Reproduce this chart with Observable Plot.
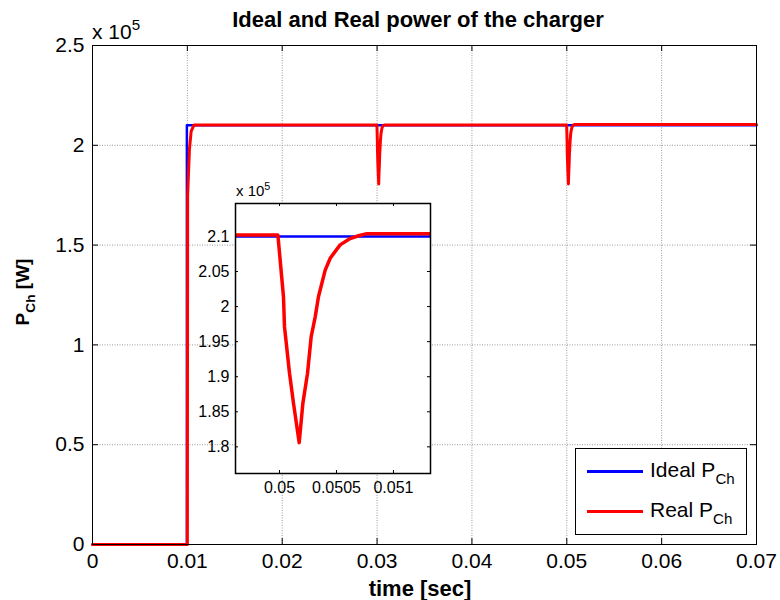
<!DOCTYPE html>
<html><head><meta charset="utf-8">
<script src="https://cdn.jsdelivr.net/npm/d3@7"></script>
<script src="https://cdn.jsdelivr.net/npm/@observablehq/plot@0.6"></script>
<style>
body{margin:0;background:#fff;font-family:"Liberation Sans",Arial,sans-serif;}
#wrap{position:relative;width:780px;height:600px;overflow:hidden;background:#fff;}
.abs{position:absolute;white-space:nowrap;color:#000;line-height:1;}
.abs sub{font-size:0.72em;vertical-align:-0.45em;}
.abs sup{font-size:0.72em;vertical-align:0.6em;}
svg{position:absolute;}
</style></head><body><div id="wrap"></div>
<script>
// ---- data (power in units of x10^5 W) ----
const idealT = [0, 0.00995, 0.00995, 0.07];
const idealP = [0, 0, 2.1, 2.1];

const realT = [0, 0.0100, 0.01003, 0.01022, 0.0104, 0.0107,
  0.029986, 0.030035, 0.030044, 0.030088, 0.030123, 0.030173, 0.030205, 0.030246, 0.030278,
  0.030313, 0.030342, 0.030401, 0.030445, 0.030532, 0.030620, 0.030693, 0.030767,
  0.049986, 0.050035, 0.050044, 0.050088, 0.050123, 0.050173, 0.050205, 0.050246, 0.050278,
  0.050313, 0.050342, 0.050401, 0.050445, 0.050532, 0.050620, 0.050693, 0.050767,
  0.07];
const realP = [0, 0, 1.75, 1.98, 2.07, 2.102,
  2.102, 2.014, 1.971, 1.905, 1.862, 1.806, 1.862, 1.905, 1.957,
  1.985, 2.014, 2.052, 2.069, 2.088, 2.097, 2.100, 2.102,
  2.102, 2.014, 1.971, 1.905, 1.862, 1.806, 1.862, 1.905, 1.957,
  1.985, 2.014, 2.052, 2.069, 2.088, 2.097, 2.101, 2.104,
  2.104];

const xTicks = [0, 0.01, 0.02, 0.03, 0.04, 0.05, 0.06, 0.07];
const xTickLabels = ["0", "0.01", "0.02", "0.03", "0.04", "0.05", "0.06", "0.07"];
const yTicks = [0, 0.5, 1, 1.5, 2, 2.5];
const yTickLabels = ["0", "0.5", "1", "1.5", "2", "2.5"];

const insetXDomain = [0.049614, 0.051325];
const insetYDomain = [1.762, 2.147];
const insetXTicks = [0.05, 0.0505, 0.051];
const insetXTickLabels = ["0.05", "0.0505", "0.051"];
const insetYTicks = [1.8, 1.85, 1.9, 1.95, 2, 2.05, 2.1];
const insetYTickLabels = ["1.8", "1.85", "1.9", "1.95", "2", "2.05", "2.1"];

const seriesNames = ["Ideal", "Real"];
const seriesColors = ["#0000ff", "#ff0000"];

// ---- build ----
const ideal = idealT.map((t, i) => ({t, p: idealP[i]}));
const real = realT.map((t, i) => ({t, p: realP[i]}));
const FONT = "'Liberation Sans', Arial, sans-serif";
const wrap = document.getElementById("wrap");

const W = 780, H = 600, mL = 92, mR = 24, mT = 45, mB = 56;
const innerW = W - mL - mR, innerH = H - mT - mB;
const TK = 6;
const gridStyle = {stroke: "#9a9a9a", strokeOpacity: 1, strokeWidth: 1, strokeDasharray: "1,1.5"};

const main = Plot.plot({
  width: W, height: H, marginLeft: mL, marginRight: mR, marginTop: mT, marginBottom: mB,
  style: {fontFamily: FONT, fontSize: "21px", color: "#000", background: "none", overflow: "visible"},
  x: {domain: [0, 0.07], label: null},
  y: {domain: [0, 2.5], label: null},
  marks: [
    Plot.ruleX(xTicks, {x: d => d, ...gridStyle}),
    Plot.ruleY(yTicks, {y: d => d, ...gridStyle}),
    Plot.tickX(xTicks, {x: d => d, insetTop: innerH - TK, stroke: "#000"}),
    Plot.tickX(xTicks, {x: d => d, insetBottom: innerH - TK, stroke: "#000"}),
    Plot.tickY(yTicks, {y: d => d, insetRight: innerW - TK, stroke: "#000"}),
    Plot.tickY(yTicks, {y: d => d, insetLeft: innerW - TK, stroke: "#000"}),
    Plot.axisX(xTicks, {tickSize: 0, tickPadding: 9, label: null, fontSize: 21,
      tickFormat: d => xTickLabels[xTicks.indexOf(d)]}),
    Plot.axisY(yTicks, {tickSize: 0, tickPadding: 8, label: null, fontSize: 21,
      tickFormat: d => yTickLabels[yTicks.indexOf(d)]}),
    Plot.line(ideal, {x: "t", y: "p", stroke: seriesColors[0], strokeWidth: 2.5}),
    Plot.line(real, {x: "t", y: "p", stroke: seriesColors[1], strokeWidth: 3}),
    Plot.frame({stroke: "#000", strokeWidth: 1})
  ]
});
main.style.left = "0px"; main.style.top = "0px";
wrap.appendChild(main);

// inset
const iL = 45, iR = 10, iT = 10, iB = 30;
const iW = 195 + iL + iR, iH = 270 + iT + iB;
const iInW = 195, iInH = 270, ITK = 3;
const inset = Plot.plot({
  width: iW, height: iH, marginLeft: iL, marginRight: iR, marginTop: iT, marginBottom: iB,
  style: {fontFamily: FONT, fontSize: "16px", color: "#000", background: "none", overflow: "visible"},
  x: {domain: insetXDomain, label: null},
  y: {domain: insetYDomain, label: null},
  marks: [
    Plot.frame({fill: "#fff", stroke: "none"}),
    Plot.tickX(insetXTicks, {x: d => d, insetTop: iInH - ITK, stroke: "#000"}),
    Plot.tickX(insetXTicks, {x: d => d, insetBottom: iInH - ITK, stroke: "#000"}),
    Plot.tickY(insetYTicks, {y: d => d, insetRight: iInW - ITK, stroke: "#000"}),
    Plot.tickY(insetYTicks, {y: d => d, insetLeft: iInW - ITK, stroke: "#000"}),
    Plot.axisX(insetXTicks, {tickSize: 0, tickPadding: 8, label: null, fontSize: 16,
      tickFormat: d => insetXTickLabels[insetXTicks.indexOf(d)]}),
    Plot.axisY(insetYTicks, {tickSize: 0, tickPadding: 6, label: null, fontSize: 16,
      tickFormat: d => insetYTickLabels[insetYTicks.indexOf(d)]}),
    Plot.line(ideal, {x: "t", y: "p", stroke: seriesColors[0], strokeWidth: 2.5, clip: true}),
    Plot.line(real, {x: "t", y: "p", stroke: seriesColors[1], strokeWidth: 3.5, clip: true}),
    Plot.frame({stroke: "#000", strokeWidth: 1.5})
  ]
});
inset.style.left = (235 - iL) + "px"; inset.style.top = (203 - iT) + "px";
wrap.appendChild(inset);

// text overlays
function addText(html, css) {
  const d = document.createElement("div");
  d.className = "abs";
  d.innerHTML = html;
  Object.assign(d.style, css);
  wrap.appendChild(d);
  return d;
}
addText("Ideal and Real power of the charger",
  {left: "418px", top: "9px", transform: "translateX(-50%)", fontSize: "22px", fontWeight: "bold"});
addText("time [sec]",
  {left: "420px", top: "578px", transform: "translateX(-50%)", fontSize: "22px", fontWeight: "bold"});
addText("P<sub>Ch</sub> [W]",
  {left: "25px", top: "292px", transform: "translate(-50%,-50%) rotate(-90deg)", fontSize: "19px", fontWeight: "bold"});
addText("x 10<sup>5</sup>", {left: "92px", top: "17px", fontSize: "21px"});
addText("x 10<sup>5</sup>", {left: "236px", top: "181px", fontSize: "15px"});

// legend
const leg = document.createElement("div");
Object.assign(leg.style, {position: "absolute", left: "575px", top: "448px", width: "172px", height: "87px",
  border: "1px solid #000", background: "#fff", boxSizing: "border-box"});
wrap.appendChild(leg);
seriesNames.forEach((name, i) => {
  const y = 471 + i * 40;
  const ln = document.createElement("div");
  Object.assign(ln.style, {position: "absolute", left: "587px", top: (y - 1.5) + "px", width: "56px", height: "3px", background: seriesColors[i]});
  wrap.appendChild(ln);
  addText(name + " P<sub>Ch</sub>", {left: "650px", top: (y - 12) + "px", fontSize: "21px"});
});
</script></body></html>
